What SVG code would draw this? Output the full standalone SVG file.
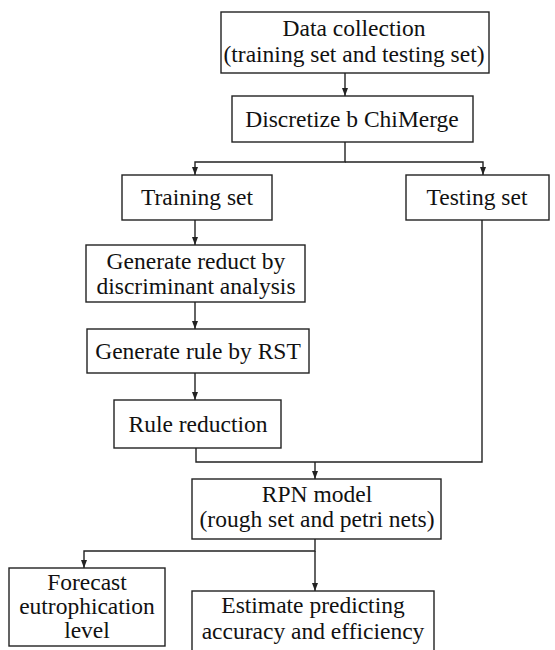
<svg xmlns="http://www.w3.org/2000/svg" width="555" height="650" viewBox="0 0 555 650">
<defs>
<style>
.box{fill:#fff;stroke:#222;stroke-width:1.4}
.t{font-family:"Liberation Serif","Times New Roman",serif;font-size:23.5px;fill:#111;text-anchor:middle}
.c{fill:none;stroke:#222;stroke-width:1.4}
</style>
<marker id="ah" viewBox="0 0 8 6" refX="8" refY="3" markerWidth="8" markerHeight="6" markerUnits="userSpaceOnUse" orient="auto">
<path d="M0,0 L8,3 L0,6 z" fill="#222"/>
</marker>
</defs>
<rect width="555" height="650" fill="#fff"/>
<g id="connectors">
<path class="c" d="M345,73 V96" marker-end="url(#ah)"/>
<path class="c" d="M345,142 V162 H195 V175" marker-end="url(#ah)"/>
<path class="c" d="M345,162 H483 V175" marker-end="url(#ah)"/>
<path class="c" d="M195,220 V245" marker-end="url(#ah)"/>
<path class="c" d="M195,302 V329" marker-end="url(#ah)"/>
<path class="c" d="M195,373 V400" marker-end="url(#ah)"/>
<path class="c" d="M196,448 V462 H482 V220"/>
<path class="c" d="M315,462 V479" marker-end="url(#ah)"/>
<path class="c" d="M315,539 V551 H84 V568" marker-end="url(#ah)"/>
<path class="c" d="M315,551 V591" marker-end="url(#ah)"/>
</g>
<g id="data">
<rect class="box" x="221" y="12" width="268" height="61"/>
<text class="t" x="354" y="36">Data collection</text>
<text class="t" x="354" y="62">(training set and testing set)</text>
</g>
<g id="discretize">
<rect class="box" x="232" y="96" width="241" height="46"/>
<text class="t" x="352" y="127">Discretize b ChiMerge</text>
</g>
<g id="training">
<rect class="box" x="122" y="175" width="150" height="45"/>
<text class="t" x="197" y="205">Training set</text>
</g>
<g id="testing">
<rect class="box" x="406" y="175" width="143" height="45"/>
<text class="t" x="477" y="205">Testing set</text>
</g>
<g id="reduct">
<rect class="box" x="86" y="245" width="219" height="57"/>
<text class="t" x="196" y="269">Generate reduct by</text>
<text class="t" x="196" y="294">discriminant analysis</text>
</g>
<g id="rule">
<rect class="box" x="87" y="329" width="222" height="44"/>
<text class="t" x="198" y="359">Generate rule by RST</text>
</g>
<g id="rulered">
<rect class="box" x="114" y="400" width="167" height="48"/>
<text class="t" x="198" y="432">Rule reduction</text>
</g>
<g id="rpn">
<rect class="box" x="192" y="479" width="249" height="60"/>
<text class="t" x="317" y="502">RPN model</text>
<text class="t" x="317" y="527">(rough set and petri nets)</text>
</g>
<g id="forecast">
<rect class="box" x="9" y="568" width="156" height="78"/>
<text class="t" x="87" y="590">Forecast</text>
<text class="t" x="87" y="614">eutrophication</text>
<text class="t" x="87" y="638">level</text>
</g>
<g id="estimate">
<rect class="box" x="192" y="591" width="242" height="64"/>
<text class="t" x="313" y="613">Estimate predicting</text>
<text class="t" x="313" y="639">accuracy and efficiency</text>
</g>
</svg>
